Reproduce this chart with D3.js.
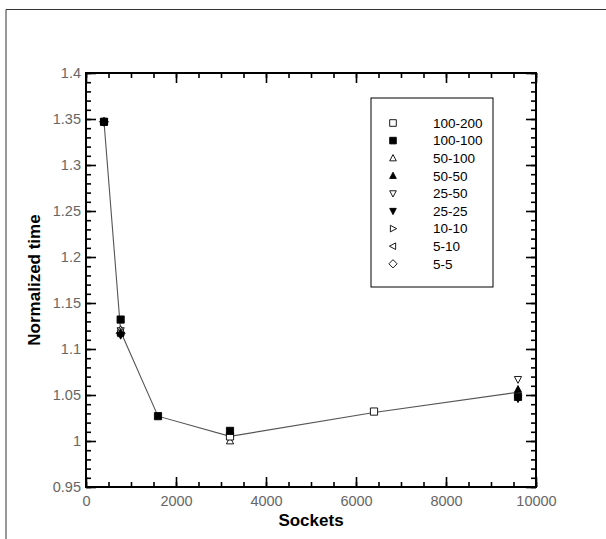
<!DOCTYPE html>
<html><head><meta charset="utf-8">
<script src="https://d3js.org/d3.v7.min.js"></script>
<style>body{margin:0;background:#fff}svg{display:block}</style>
</head><body><svg id="c" width="606" height="539"></svg>
<script>
// ---- data ----
const seriesNames = ["100-200","100-100","50-100","50-50","25-50","25-25","10-10","5-10","5-5"];
const seriesSymbols = ["square","square","triUp","triUp","triDown","triDown","triRight","triLeft","diamond"];
const seriesFilled = [false,true,false,true,false,true,false,false,false];
const s100_200 = [[3200,1.005],[6400,1.032]];
const s100_100 = [[400,1.347],[770,1.132],[1600,1.027],[3200,1.011],[9600,1.048]];
const s50_100  = [[400,1.347],[770,1.121],[3200,1.000]];
const s50_50   = [[400,1.347],[770,1.118],[9600,1.056]];
const s25_50   = [[400,1.347],[770,1.120],[9600,1.067]];
const s25_25   = [[400,1.347],[770,1.115],[9600,1.046]];
const s10_10   = [[400,1.347],[770,1.117]];
const s5_10    = [[400,1.347],[770,1.117]];
const s5_5     = [[400,1.347],[770,1.117]];
const seriesData = [s100_200,s100_100,s50_100,s50_50,s25_50,s25_25,s10_10,s5_10,s5_5];
const lineSockets = [400,770,1600,3200,6400,9600];
const lineTime    = [1.347,1.119,1.027,1.005,1.031,1.053];
const xTicks = [0,2000,4000,6000,8000,10000];
const yTicks = [0.95,1,1.05,1.1,1.15,1.2,1.25,1.3,1.35,1.4];

// ---- layout ----
const svg = d3.select("#c");
const L=86, R=536, T=73, B=487;
const x = d3.scaleLinear().domain([0,10000]).range([L,R]);
const y = d3.scaleLinear().domain([0.95,1.4]).range([B,T]);

// outer frame
svg.append("path").attr("d",`M6,539V9.5H606`).attr("fill","none").attr("stroke","#333").attr("stroke-width",1);

const tickFont = "Liberation Sans, Arial, sans-serif";
const xMinor = d3.range(0,10001,500);
const yMinor = d3.range(0,46).map(i=>+(0.95+i*0.01).toFixed(2));
function addAxis(gen, tr, major, minor, majLen, minLen, fmt, showLabels){
  const g = svg.append("g").attr("transform",tr);
  g.call(gen.tickValues(minor).tickSize(minLen).tickFormat(""));
  const g2 = svg.append("g").attr("transform",tr);
  g2.call(gen.tickValues(major).tickSize(majLen).tickFormat(showLabels?fmt:""));
  [g,g2].forEach(gg=>{gg.select(".domain").remove(); gg.selectAll("line").attr("stroke","#000").attr("stroke-width",1.6);});
  g2.selectAll("text").attr("fill","#666").style("font-family",tickFont).style("font-size","14.5px");
  return g2;
}
const gb = addAxis(d3.axisBottom(x), `translate(0,${B})`, xTicks, xMinor, -10, -5, d3.format("d"), true);
gb.selectAll("text").attr("dy","0").attr("y",19);
addAxis(d3.axisTop(x), `translate(0,${T})`, xTicks, xMinor, -10, -5, null, false);
const gl = addAxis(d3.axisLeft(y), `translate(${L},0)`, yTicks, yMinor, -10, -5, d => d3.format("")(d), true);
gl.selectAll("text").attr("x",-5).attr("dy","0.32em");
addAxis(d3.axisRight(y), `translate(${R},0)`, yTicks, yMinor, -10, -5, null, false);

svg.append("rect").attr("x",L).attr("y",T).attr("width",R-L).attr("height",B-T)
  .attr("fill","none").attr("stroke","#000").attr("stroke-width",2);

// data line
const lineData = lineSockets.map((s,i)=>[s,lineTime[i]]);
svg.append("path").datum(lineData)
  .attr("d", d3.line().x(d=>x(d[0])).y(d=>y(d[1])))
  .attr("fill","none").attr("stroke","#555").attr("stroke-width",1.1);

function markerPath(sym, r){
  switch(sym){
    case "square": return `M${-r},${-r}H${r}V${r}H${-r}Z`;
    case "triUp": return `M0,${-r*1.1}L${r},${r*0.8}L${-r},${r*0.8}Z`;
    case "triDown": return `M0,${r*1.1}L${r},${-r*0.8}L${-r},${-r*0.8}Z`;
    case "triRight": return `M${r*1.1},0L${-r*0.8},${r}L${-r*0.8},${-r}Z`;
    case "triLeft": return `M${-r*1.1},0L${r*0.8},${r}L${r*0.8},${-r}Z`;
    case "diamond": return `M0,${-r*1.25}L${r*1.25},0L0,${r*1.25}L${-r*1.25},0Z`;
  }
}
// draw open series first, filled on top
const order = d3.range(seriesData.length).sort((a,b)=>(seriesFilled[a]-seriesFilled[b]) || (b-a));
order.forEach(i=>{
  svg.append("g").selectAll("path").data(seriesData[i]).join("path")
    .attr("transform",d=>`translate(${x(d[0])},${y(d[1])})`)
    .attr("d",markerPath(seriesSymbols[i],3.6))
    .attr("fill",seriesFilled[i]?"#000":"#fff")
    .attr("stroke","#000").attr("stroke-width",0.9);
});

// legend
const lg = svg.append("g");
const lx=371, ly=98, rowH=17.6;
lg.append("rect").attr("x",lx).attr("y",ly).attr("width",122).attr("height",189)
  .attr("fill","#fff").attr("stroke","#000").attr("stroke-width",1);
seriesNames.forEach((n,i)=>{
  const cy = ly+25+i*rowH;
  lg.append("path").attr("transform",`translate(${lx+22},${cy})`)
    .attr("d",markerPath(seriesSymbols[i],3.3))
    .attr("fill",seriesFilled[i]?"#000":"#fff").attr("stroke","#000").attr("stroke-width",0.9);
  lg.append("text").attr("x",lx+62).attr("y",cy).attr("dy","0.35em")
    .style("font-family",tickFont).style("font-size","13.5px").attr("fill","#000").text(n);
});

svg.append("text").attr("x",(L+R)/2).attr("y",526).attr("text-anchor","middle")
  .style("font-family",tickFont).style("font-size","17px").style("font-weight","bold").text("Sockets");
svg.append("text").attr("transform",`translate(40,${(T+B)/2}) rotate(-90)`).attr("text-anchor","middle")
  .style("font-family",tickFont).style("font-size","17px").style("font-weight","bold").text("Normalized time");
</script></body></html>
